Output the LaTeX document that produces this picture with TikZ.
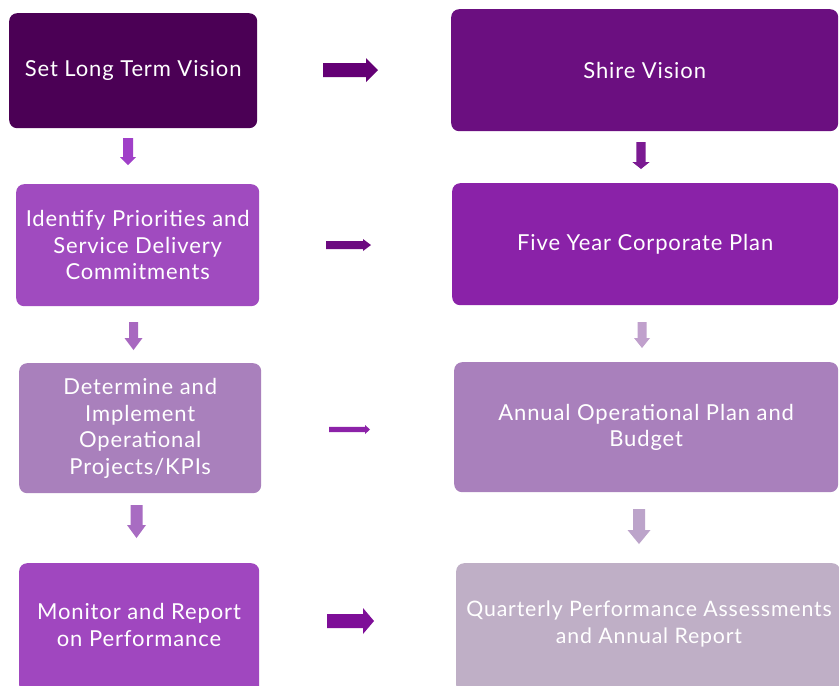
\documentclass[tikz,border=0pt]{standalone}
\usepackage{fontspec}
\setmainfont{Lato}[LetterSpace=4]
\begin{document}
\definecolor{cA}{HTML}{4B0055}
\definecolor{cB}{HTML}{6B0F80}
\definecolor{cC}{HTML}{A04BBF}
\definecolor{cD}{HTML}{8A22A8}
\definecolor{cE}{HTML}{A980BC}
\definecolor{cF}{HTML}{A047BF}
\definecolor{cG}{HTML}{BFAFC6}
\definecolor{aH1}{HTML}{640075}
\definecolor{aH2}{HTML}{6C0A80}
\definecolor{aH3}{HTML}{8C22A8}
\definecolor{aH4}{HTML}{7E0E98}
\definecolor{aV1}{HTML}{A040C8}
\definecolor{aV2}{HTML}{A868C0}
\definecolor{aV3}{HTML}{A86CC2}
\definecolor{aW1}{HTML}{7B1A92}
\definecolor{aW2}{HTML}{C0A0CC}
\definecolor{aW3}{HTML}{BCA4CA}
% right-pointing block arrow: tail x, centre y, tip x, shaft half-width, head half-width, head start x
\newcommand{\rarrow}[7]{\fill[#7] (#1,#2-#4) -- (#6,#2-#4) -- (#6,#2-#5) -- (#3,#2) -- (#6,#2+#5) -- (#6,#2+#4) -- (#1,#2+#4) -- cycle;}
% down-pointing block arrow: centre x, top y, tip y, shaft half-width, head half-width, head start y
\newcommand{\darrow}[7]{\fill[#7] (#1-#4,#2) -- (#1+#4,#2) -- (#1+#4,#6) -- (#1+#5,#6) -- (#1,#3) -- (#1-#5,#6) -- (#1-#4,#6) -- cycle;}
\begin{tikzpicture}[x=1pt,y=-1pt,
  lbl/.style={text=white, align=center, font=\fontsize{22}{26.5}\selectfont},
  box/.style={lbl, rounded corners=8pt, inner sep=0pt, anchor=north west}]
\clip (0,0) rectangle (839,686);
\fill[white] (0,0) rectangle (839,686);
% left column
\node[box, fill=cA, minimum width=248pt, minimum height=115pt] (vis) at (9,13) {Set Long Term Vision};
\node[box, fill=cC, minimum width=243pt, minimum height=122pt] (pri) at (16,184) {Identify Priorities and\\Service Delivery\\Commitments};
\node[box, fill=cE, minimum width=242pt, minimum height=130pt] (det) at (19,363) {Determine and\\Implement\\Operational\\Projects/KPIs};
\node[box, fill=cF, minimum width=240pt, minimum height=130pt] (mon) at (19,563) {};
\node[lbl] (monT) at (139,625) {Monitor and Report\\on Performance};
% right column
\node[box, fill=cB, minimum width=387pt, minimum height=122pt] (shv) at (451,9) {Shire Vision};
\node[box, fill=cD, minimum width=386pt, minimum height=122pt] (fyp) at (452,183) {Five Year Corporate Plan};
\node[box, fill=cE, minimum width=384pt, minimum height=130pt] (aop) at (454,362) {Annual Operational Plan and\\Budget};
\node[box, fill=cG, minimum width=384pt, minimum height=130pt] (qpa) at (456,563) {};
\node[lbl, font=\fontsize{21.3}{26.5}\selectfont] (qpaT) at (649,624) {Quarterly Performance Assessments\\and Annual Report};
% horizontal arrows
\rarrow{323}{70}{378}{7}{12}{366}{aH1}
\rarrow{326}{245}{371}{4}{6}{363}{aH2}
\rarrow{329}{429.5}{370}{2.6}{4.5}{365}{aH3}
\rarrow{327}{621}{374}{7}{13}{363}{aH4}
% vertical arrows, left column
\darrow{128}{138}{165}{5}{8}{157}{aV1}
\darrow{133.5}{322}{350}{4.5}{9}{338}{aV2}
\darrow{136.5}{505}{538}{6}{9.5}{525}{aV3}
% vertical arrows, right column
\darrow{641}{142}{169}{4.7}{8.7}{162}{aW1}
\darrow{642}{322}{348}{4.5}{8}{338}{aW2}
\darrow{639}{509}{544}{6}{11.5}{530}{aW3}
\end{tikzpicture}
\end{document}
